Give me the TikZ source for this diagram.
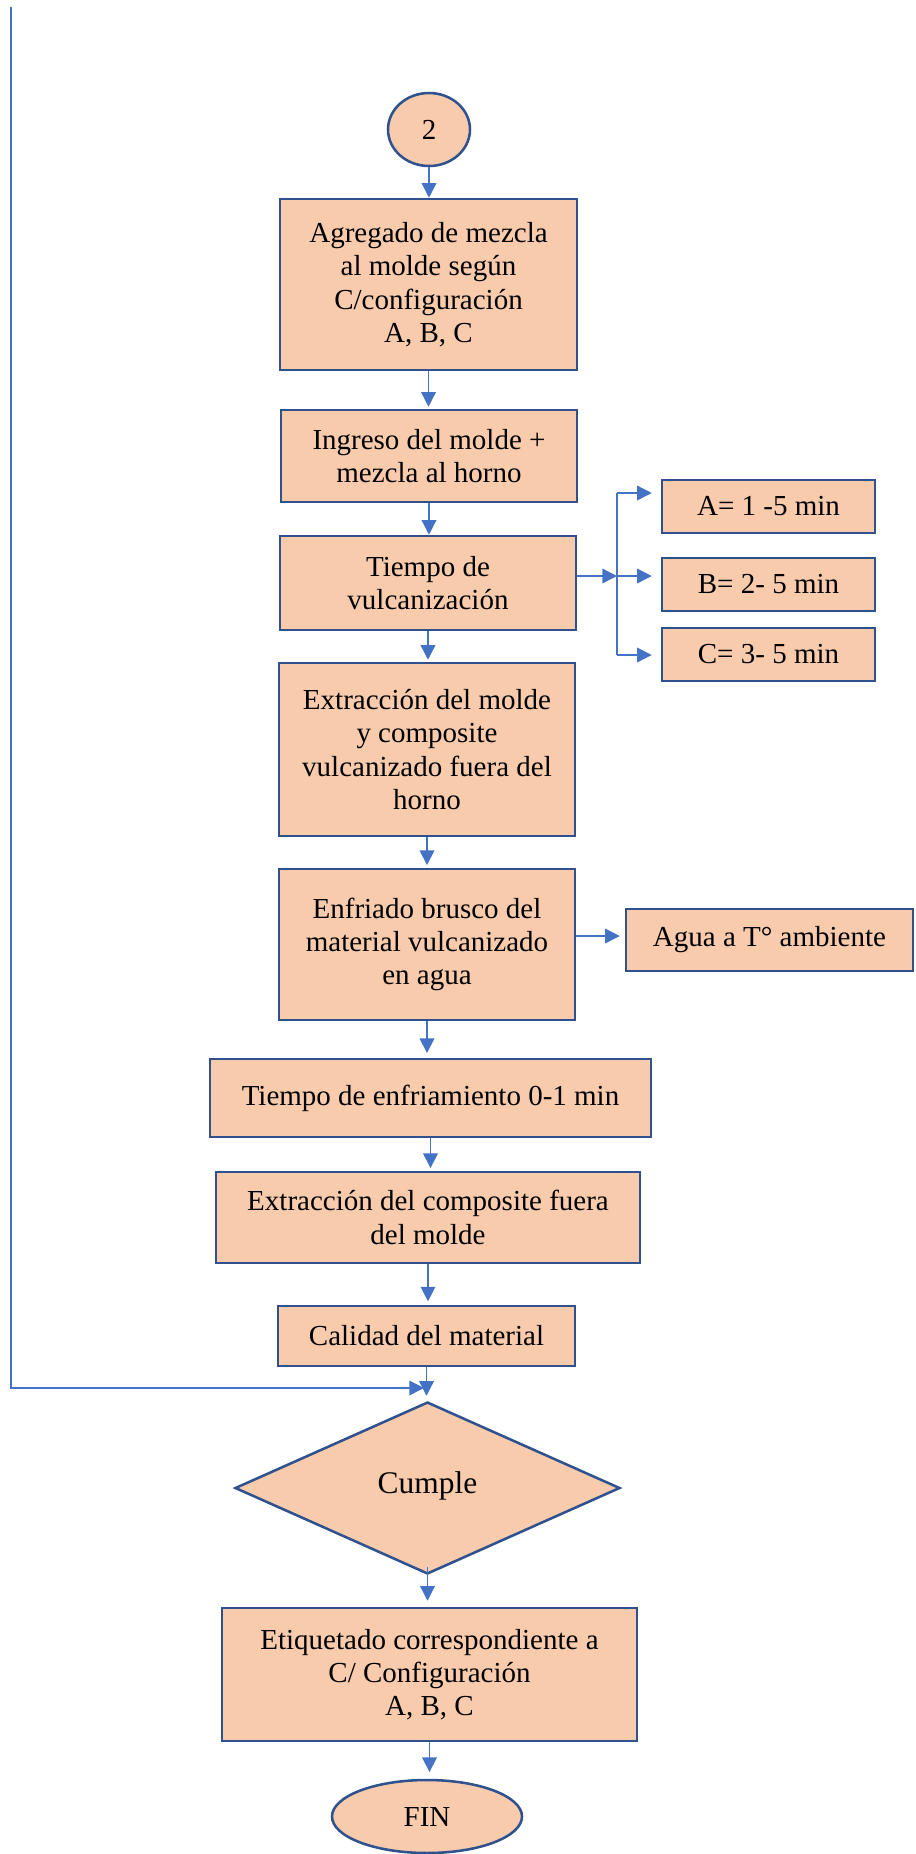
\documentclass[tikz,border=0pt]{standalone}
\usepackage{fontspec}
\setmainfont{Liberation Serif}
\usetikzlibrary{shapes.geometric,arrows.meta}
\definecolor{boxfill}{HTML}{F8CBAD}
\definecolor{boxline}{HTML}{2F528F}
\definecolor{conn}{HTML}{4472C4}
\begin{document}
\begin{tikzpicture}[x=0.75pt,y=-0.75pt,
  box/.style={draw=boxline,line width=1.9pt,fill=boxfill,inner sep=0pt,align=center,
    font=\fontsize{21.75}{25}\selectfont},
  ell/.style={box,ellipse},
  dia/.style={box,diamond},
  arr/.style={draw=conn,line width=1pt,-{Triangle[length=11pt,width=11pt]}},
  ln/.style={draw=conn,line width=1pt}]
\useasboundingbox (0,0) rectangle (915,1854);

\node[ell,minimum width=61.5pt,minimum height=54.75pt] (c2) at (429,129.5) {2};
\node[box,minimum width=222.75pt,minimum height=128.25pt] (b1) at (428.5,284.5)
  {Agregado de mezcla\\al molde según\\C/configuración\\A, B, C};
\node[box,minimum width=222pt,minimum height=69pt] (b2) at (429,456)
  {Ingreso del molde +\\mezcla al horno};
\node[box,minimum width=222pt,minimum height=70.5pt] (b3) at (428,583)
  {Tiempo de\\vulcanización};
\node[box,minimum width=159.75pt,minimum height=39.75pt] (bA) at (768.5,506.5) {A= 1 -5 min};
\node[box,minimum width=159.75pt,minimum height=39.75pt] (bB) at (768.5,584.5) {B= 2- 5 min};
\node[box,minimum width=159.75pt,minimum height=39.75pt] (bC) at (768.5,654.5) {C= 3- 5 min};
\node[box,minimum width=222pt,minimum height=129.75pt] (b4) at (427,749.5)
  {Extracción del molde\\y composite\\vulcanizado fuera del\\horno};
\node[box,minimum width=222pt,minimum height=113.25pt] (b5) at (427,944.5)
  {Enfriado brusco del\\material vulcanizado\\en agua};
\node[box,minimum width=215.25pt,minimum height=46.5pt] (ag) at (769.5,940)
  {Agua a T° ambiente};
\node[box,minimum width=330.75pt,minimum height=58.5pt] (b6) at (430.5,1098)
  {\raisebox{4pt}{Tiempo de enfriamiento 0-1 min}};
\node[box,minimum width=318pt,minimum height=68.25pt] (b7) at (428,1217.5)
  {Extracción del composite fuera\\del molde};
\node[box,minimum width=222.75pt,minimum height=45pt] (cal) at (426.5,1336)
  {Calidad del material};
\node[dia,minimum width=288.75pt,minimum height=129pt,
  font=\fontsize{23.6}{27}\selectfont] (cu) at (427.5,1488)
  {\raisebox{8pt}{Cumple}};
\node[box,minimum width=311.25pt,minimum height=99.75pt] (et) at (429.5,1674.5)
  {Etiquetado correspondiente a\\C/ Configuración\\A, B, C};
\node[ell,minimum width=142.5pt,minimum height=54.75pt] (fin) at (427,1816.5) {FIN};

% main flow
\draw[arr] (c2.south) -- (c2.south |- b1.north);
\draw[arr,shorten >=1.5pt] (b1.south) -- (b1.south |- b2.north);
\draw[arr] (b2.south) -- (b2.south |- b3.north);
\draw[arr,shorten >=1.5pt] (b3.south) -- (b3.south |- b4.north);
\draw[arr,shorten >=2pt] (b4.south) -- (b4.south |- b5.north);
\draw[arr,shorten >=3.5pt] (b5.south) -- (b5.south |- b6.north);
\draw[arr,shorten >=2pt] (b6.south) -- (b6.south |- b7.north);
\draw[arr,shorten >=2.5pt] (b7.south) -- (b7.south |- cal.north);
\draw[arr,shorten >=3.75pt] (cal.south) -- (cal.south |- cu.north);
\draw[arr,shorten >=4.5pt] ([yshift=6pt]cu.south) -- (cu.south |- et.north);
\draw[arr,shorten >=5pt] (et.south) -- (et.south |- fin.north);

% branch to A, B, C
\coordinate (bus) at (617,576);
\coordinate (busA) at (617,493);
\coordinate (busC) at (617,655);
\draw[arr] (b3.east |- bus) -- (bus);
\draw[ln] (busA) -- (busC);
\draw[arr,shorten >=6.75pt] (busA) -- (bA.west |- busA);
\draw[arr,shorten >=6.75pt] (bus) -- (bB.west |- bus);
\draw[arr,shorten >=6.75pt] (busC) -- (bC.west |- busC);

% water
\draw[arr,shorten >=3.75pt] (b5.east |- 0,936) -- (ag.west |- 0,936);

% feedback line
\coordinate (fbtop) at (11,7);
\coordinate (fbcorner) at (11,1388);
\coordinate (fbend) at (424,1388);
\draw[arr] (fbtop) -- (fbcorner) -- (fbend);
\end{tikzpicture}
\end{document}
